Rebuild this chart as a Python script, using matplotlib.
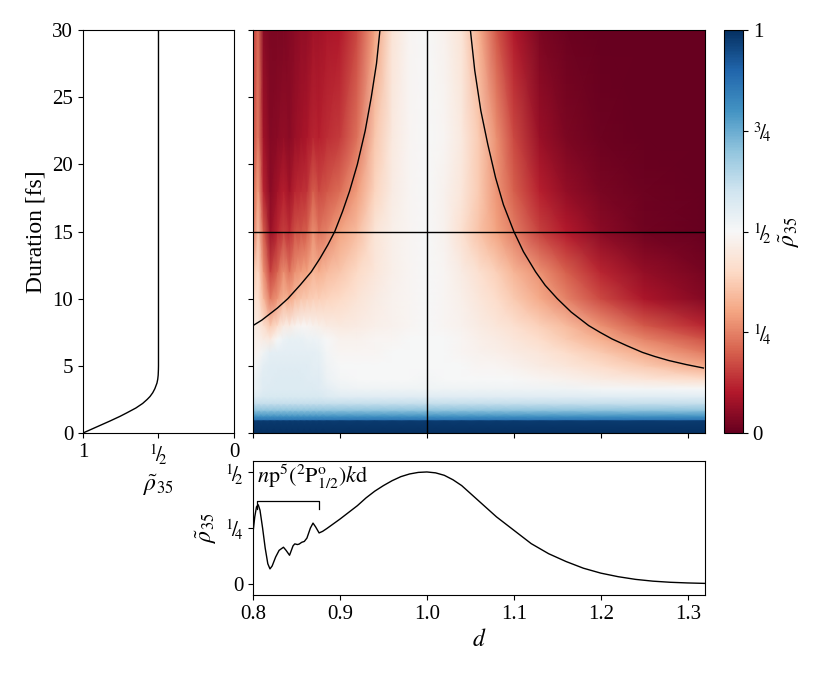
import numpy as np
import matplotlib
matplotlib.use("Agg")
import matplotlib.pyplot as plt

plt.rcParams['font.family'] = ['Liberation Serif', 'DejaVu Serif']
plt.rcParams['mathtext.fontset'] = 'stix'
plt.rcParams['font.size'] = 15

# ---------- data

# heatmap grid: pulse parameter d (columns) and duration in fs (rows)
d_cols = [0.800, 0.806, 0.812, 0.820, 0.828, 0.835, 0.842, 0.848, 0.855, 0.862,
          0.869, 0.876, 0.885, 0.900, 0.920, 0.940, 0.960, 0.980, 1.000, 1.020,
          1.040, 1.060, 1.080, 1.100, 1.130, 1.160, 1.200, 1.250, 1.320]
dur_rows = [0, 0.95, 1.0, 1.25, 1.7, 2.2, 2.7, 3.3, 4, 5, 6, 7, 8, 10, 12, 15, 18, 22, 30]

# rho_35 at each (duration, d)
rho_map = [
    [1.00] * 29,
    [0.98] * 29,
    [0.86] * 29,
    [0.80] * 29,
    [0.70] * 29,
    [0.62] * 29,
    [0.57, 0.57, 0.58, 0.58, 0.58, 0.58, 0.58, 0.58, 0.58, 0.58, 0.58, 0.58, 0.57, 0.56, 0.56,
     0.56, 0.56, 0.56, 0.56, 0.56, 0.56, 0.56, 0.56, 0.56, 0.56, 0.56, 0.56, 0.56, 0.56],
    [0.53, 0.54, 0.56, 0.57, 0.57, 0.57, 0.57, 0.57, 0.57, 0.57, 0.57, 0.56, 0.55, 0.53, 0.52,
     0.52, 0.52, 0.52, 0.52, 0.52, 0.52, 0.52, 0.52, 0.52, 0.52, 0.52, 0.51, 0.51, 0.50],
    [0.52, 0.54, 0.56, 0.56, 0.57, 0.57, 0.57, 0.57, 0.57, 0.56, 0.56, 0.56, 0.53, 0.51, 0.50,
     0.50, 0.50, 0.50, 0.51, 0.50, 0.50, 0.50, 0.50, 0.50, 0.49, 0.48, 0.46, 0.44, 0.41],
    [0.50, 0.52, 0.55, 0.56, 0.56, 0.56, 0.56, 0.56, 0.56, 0.56, 0.55, 0.55, 0.52, 0.50, 0.50,
     0.50, 0.50, 0.50, 0.50, 0.50, 0.50, 0.49, 0.49, 0.48, 0.46, 0.44, 0.41, 0.37, 0.31],
    [0.48, 0.49, 0.52, 0.55, 0.55, 0.55, 0.55, 0.55, 0.55, 0.55, 0.55, 0.54, 0.51, 0.49, 0.49,
     0.49, 0.50, 0.50, 0.50, 0.50, 0.49, 0.48, 0.47, 0.46, 0.44, 0.41, 0.37, 0.31, 0.24],
    [0.47, 0.47, 0.46, 0.45, 0.50, 0.53, 0.54, 0.54, 0.54, 0.53, 0.53, 0.52, 0.50, 0.48, 0.48,
     0.49, 0.49, 0.50, 0.50, 0.50, 0.49, 0.47, 0.46, 0.44, 0.41, 0.37, 0.32, 0.25, 0.18],
    [0.46, 0.45, 0.42, 0.37, 0.41, 0.46, 0.46, 0.48, 0.49, 0.49, 0.48, 0.47, 0.46, 0.45, 0.46,
     0.47, 0.48, 0.49, 0.50, 0.49, 0.48, 0.46, 0.44, 0.42, 0.38, 0.34, 0.27, 0.19, 0.12],
    [0.42, 0.42, 0.34, 0.24, 0.28, 0.33, 0.31, 0.34, 0.36, 0.37, 0.38, 0.38, 0.39, 0.40, 0.43,
     0.46, 0.48, 0.49, 0.50, 0.49, 0.47, 0.44, 0.41, 0.37, 0.31, 0.25, 0.17, 0.09, 0.04],
    [0.36, 0.40, 0.28, 0.16, 0.21, 0.27, 0.23, 0.27, 0.29, 0.30, 0.33, 0.32, 0.34, 0.36, 0.40,
     0.44, 0.47, 0.49, 0.50, 0.49, 0.46, 0.42, 0.38, 0.33, 0.27, 0.20, 0.12, 0.06, 0.02],
    [0.23, 0.35, 0.20, 0.07, 0.12, 0.16, 0.13, 0.18, 0.185, 0.20, 0.27, 0.23, 0.25, 0.30, 0.345,
     0.43, 0.47, 0.49, 0.50, 0.48, 0.42, 0.355, 0.30, 0.245, 0.16, 0.105, 0.048, 0.013, 0.001],
    [0.20, 0.30, 0.12, 0.05, 0.08, 0.11, 0.08, 0.12, 0.13, 0.14, 0.20, 0.17, 0.19, 0.22, 0.29,
     0.39, 0.46, 0.49, 0.50, 0.48, 0.44, 0.37, 0.28, 0.20, 0.11, 0.06, 0.025, 0.008, 0.0],
    [0.17, 0.24, 0.08, 0.04, 0.05, 0.06, 0.05, 0.07, 0.08, 0.09, 0.12, 0.11, 0.13, 0.15, 0.23,
     0.36, 0.45, 0.49, 0.50, 0.49, 0.45, 0.37, 0.27, 0.17, 0.07, 0.03, 0.01, 0.0, 0.0],
    [0.15, 0.22, 0.05, 0.03, 0.03, 0.03, 0.04, 0.05, 0.06, 0.06, 0.08, 0.08, 0.09, 0.10, 0.17,
     0.30, 0.43, 0.49, 0.50, 0.48, 0.43, 0.32, 0.19, 0.10, 0.03, 0.01, 0.0, 0.0, 0.0],
]

# left panel: rho_35 vs duration at d = 1.0
left_dur = [0, 0.3, 0.6, 0.9, 1.24, 1.5, 1.86, 2.2, 2.5, 2.72, 3.0, 3.3, 3.72, 4.0, 4.3, 4.7, 5.0, 30]
left_rho = [1.0, 0.94, 0.88, 0.82, 0.755, 0.71, 0.65, 0.605, 0.575, 0.556, 0.538, 0.524, 0.51,
            0.505, 0.502, 0.5005, 0.5, 0.5]

# bottom panel: rho_35 vs d at 15 fs
cut_d = [0.800, 0.802, 0.804, 0.806, 0.808, 0.811, 0.814, 0.817, 0.8195, 0.822, 0.826,
         0.830, 0.835, 0.838, 0.842, 0.846, 0.848, 0.851, 0.853, 0.856, 0.859, 0.862,
         0.866, 0.869, 0.872, 0.876, 0.880, 0.885, 0.890, 0.900, 0.910, 0.920, 0.930,
         0.940, 0.950, 0.960, 0.970, 0.980, 0.990, 1.000, 1.010, 1.020, 1.030, 1.040,
         1.050, 1.060, 1.070, 1.080, 1.090, 1.100, 1.110, 1.120, 1.140, 1.160, 1.180,
         1.200, 1.220, 1.240, 1.260, 1.280, 1.300, 1.320]
cut_rho = [0.23, 0.30, 0.345, 0.354, 0.33, 0.25, 0.16, 0.09, 0.067, 0.08, 0.12,
           0.15, 0.164, 0.15, 0.128, 0.17, 0.179, 0.176, 0.178, 0.186, 0.19, 0.205,
           0.25, 0.272, 0.255, 0.228, 0.235, 0.248, 0.262, 0.29, 0.32, 0.35, 0.385,
           0.415, 0.44, 0.462, 0.48, 0.492, 0.499, 0.501, 0.497, 0.486, 0.466, 0.44,
           0.405, 0.37, 0.335, 0.30, 0.27, 0.24, 0.21, 0.18, 0.135, 0.10, 0.07,
           0.048, 0.032, 0.02, 0.012, 0.007, 0.004, 0.002]

# black guide curves on the heatmap
lo_dur = [8.0, 8.4, 8.8, 9.3, 10, 11, 12, 13, 14, 15, 16.5, 18, 20, 22.5, 25, 27.5, 30]
lo_d = [0.800, 0.810, 0.818, 0.828, 0.840, 0.854, 0.867, 0.877, 0.886, 0.894, 0.903,
        0.911, 0.920, 0.929, 0.936, 0.942, 0.946]
hi_dur = [4.84, 5.1, 5.4, 5.7, 6.0, 6.5, 7.0, 7.5, 8.0, 9.0, 10, 11, 12, 13.5, 15, 17,
          19, 21.5, 24, 27, 30]
hi_d = [1.318, 1.298, 1.278, 1.262, 1.248, 1.230, 1.213, 1.199, 1.186, 1.166, 1.150,
        1.136, 1.125, 1.111, 1.100, 1.088, 1.079, 1.070, 1.062, 1.055, 1.050]

cut_duration = 15
cut_center = 1.0

dur_ticks = [0, 5, 10, 15, 20, 25, 30]
d_ticks = [0.8, 0.9, 1.0, 1.1, 1.2, 1.3]
d_ticklabels = ['0.8', '0.9', '1.0', '1.1', '1.2', '1.3']
half = r'${}^{1}\!/\!{}_{2}$'
quarter = r'${}^{1}\!/\!{}_{4}$'
three_q = r'${}^{3}\!/\!{}_{4}$'
rho_label = r'$\tilde{\rho}_{35}$'

# ---------- figure
fig = plt.figure(figsize=(8.25, 6.75), dpi=100)
ax_left = fig.add_axes([0.1006, 0.3585, 0.183, 0.597])
ax_map = fig.add_axes([0.3067, 0.3585, 0.548, 0.597])
cax = fig.add_axes([0.8776, 0.3585, 0.023, 0.597])
ax_cut = fig.add_axes([0.3067, 0.1185, 0.548, 0.1985])

# heatmap
X, Y = np.meshgrid(d_cols, dur_rows)
mesh = ax_map.pcolormesh(X, Y, np.array(rho_map), cmap='RdBu', vmin=0, vmax=1,
                         shading='gouraud', rasterized=True)
ax_map.plot(lo_d, lo_dur, color='black', lw=1)
ax_map.plot(hi_d, hi_dur, color='black', lw=1)
ax_map.axhline(cut_duration, color='black', lw=1)
ax_map.axvline(cut_center, color='black', lw=1)
ax_map.set_xlim(0.8, 1.32)
ax_map.set_ylim(0, 30)
ax_map.set_xticks(d_ticks)
ax_map.set_yticks(dur_ticks)
ax_map.tick_params(labelbottom=False, labelleft=False)

# colorbar
cb = fig.colorbar(mesh, cax=cax, ticks=[0, 0.25, 0.5, 0.75, 1])
cb.ax.set_yticklabels(['0', quarter, half, three_q, '1'])
cb.set_label(rho_label, fontsize=17)
cb.outline.set_linewidth(0.8)

# left panel
ax_left.plot(left_rho, left_dur, color='black', lw=1)
ax_left.set_xlim(1, 0)
ax_left.set_ylim(0, 30)
ax_left.set_xticks([1, 0.5, 0])
ax_left.set_xticklabels(['1', half, '0'])
ax_left.set_yticks(dur_ticks)
ax_left.set_ylabel('Duration [fs]', fontsize=17)
ax_left.set_xlabel(rho_label, fontsize=17)

# bottom panel
ax_cut.plot(cut_d, cut_rho, color='black', lw=1)
ax_cut.set_xlim(0.8, 1.32)
ax_cut.set_ylim(-0.05, 0.55)
ax_cut.set_xticks(d_ticks)
ax_cut.set_xticklabels(d_ticklabels)
ax_cut.set_yticks([0, 0.25, 0.5])
ax_cut.set_yticklabels(['0', quarter, half])
ax_cut.set_xlabel(r'$d$', fontsize=17)
ax_cut.set_ylabel(rho_label, fontsize=17)
ax_cut.plot([0.8045, 0.8045, 0.8755, 0.8755], [0.333, 0.369, 0.369, 0.333], color='black', lw=0.9)
ax_cut.text(0.805, 0.45, r'$n\mathrm{p}^5(^2\mathrm{P}^{\mathrm{o}}_{1/2})k\mathrm{d}$', fontsize=16)

fig.savefig('out.png', dpi=100)
